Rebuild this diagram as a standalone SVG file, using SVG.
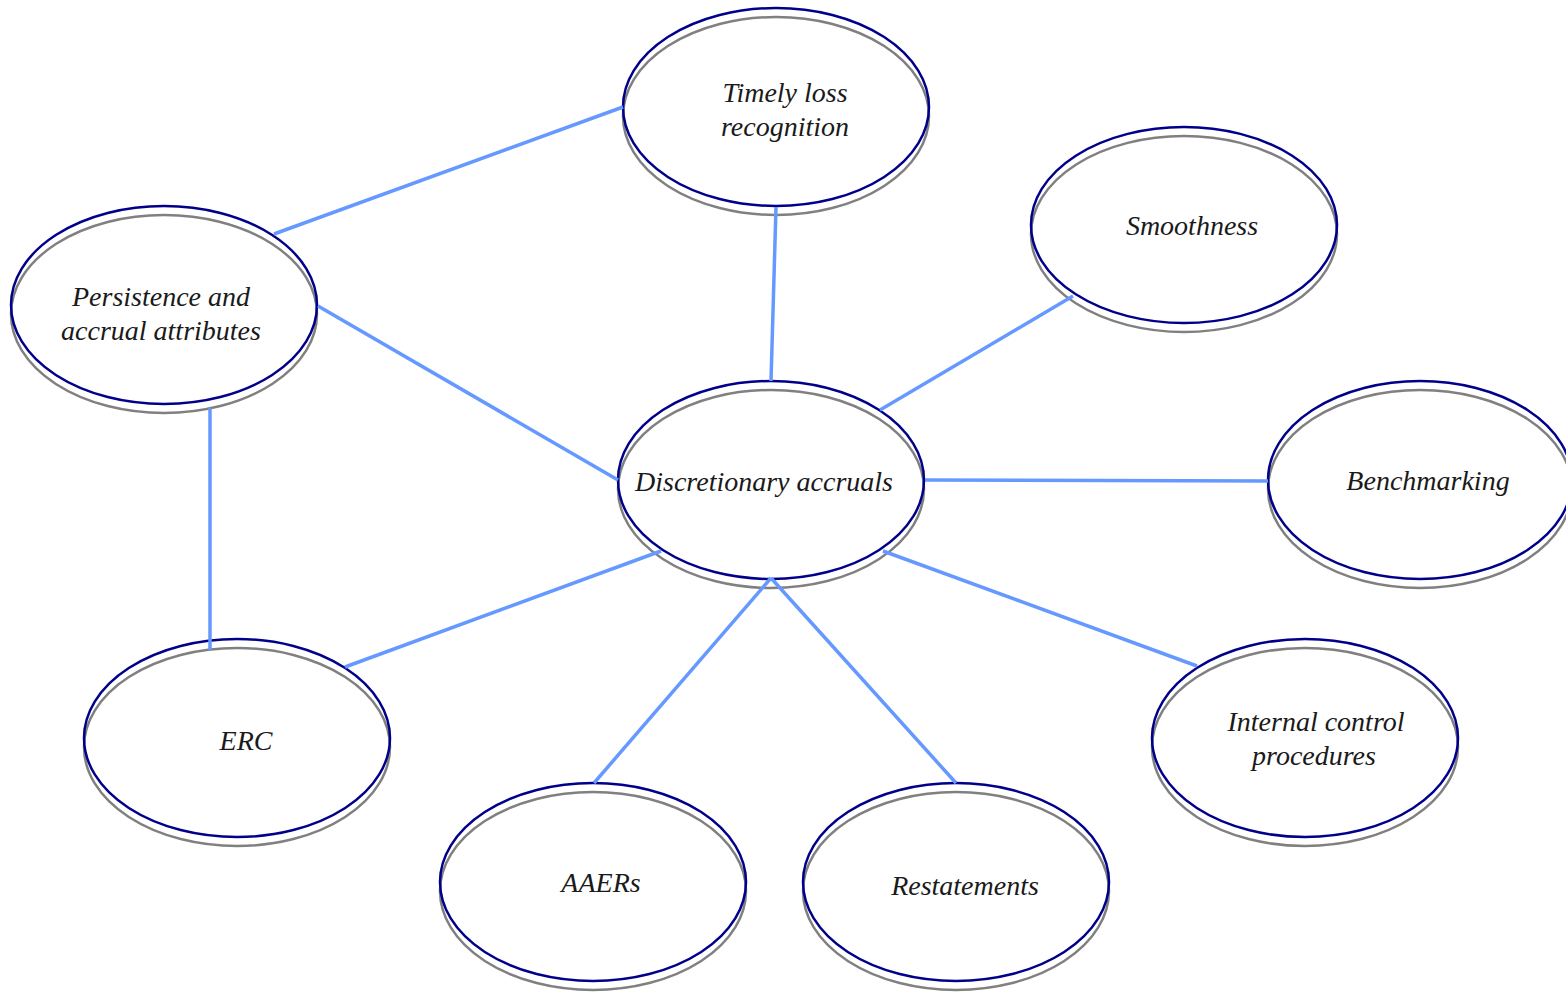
<svg xmlns="http://www.w3.org/2000/svg" width="1566" height="992" viewBox="0 0 1566 992">
<style>
.sh{fill:#fff;stroke:#808080;stroke-width:2.5}
.nv{fill:none;stroke:#00008b;stroke-width:2.5}
.t{font-family:"Liberation Serif",serif;font-style:italic;font-size:28px;fill:#1a1a1a;text-anchor:middle}
.c{stroke:#6699ff;stroke-width:3.5;fill:none}
</style>
<rect width="1566" height="992" fill="#fff"/>
<g id="n-timely"><ellipse class="sh" cx="776" cy="116" rx="153" ry="99"/><ellipse class="nv" cx="776" cy="107" rx="153" ry="99"/><text class="t" x="785" y="102">Timely loss</text><text class="t" x="785" y="136">recognition</text></g>
<g id="n-smooth"><ellipse class="sh" cx="1184" cy="234" rx="153" ry="98"/><ellipse class="nv" cx="1184" cy="225" rx="153" ry="98"/><text class="t" x="1192" y="235">Smoothness</text></g>
<g id="n-persist"><ellipse class="sh" cx="164" cy="314" rx="153" ry="99"/><ellipse class="nv" cx="164" cy="305" rx="153" ry="99"/><text class="t" x="161" y="306">Persistence and</text><text class="t" x="161" y="340">accrual attributes</text></g>
<g id="n-disc"><ellipse class="sh" cx="771" cy="489" rx="153" ry="99"/><ellipse class="nv" cx="771" cy="480" rx="153" ry="99"/><text class="t" x="764" y="491">Discretionary accruals</text></g>
<g id="n-bench"><ellipse class="sh" cx="1420" cy="489" rx="152" ry="99"/><ellipse class="nv" cx="1420" cy="480" rx="152" ry="99"/><text class="t" x="1428" y="490">Benchmarking</text></g>
<g id="n-erc"><ellipse class="sh" cx="237" cy="747" rx="153" ry="99"/><ellipse class="nv" cx="237" cy="738" rx="153" ry="99"/><text class="t" x="246" y="750">ERC</text></g>
<g id="n-aaers"><ellipse class="sh" cx="593" cy="891" rx="153" ry="99"/><ellipse class="nv" cx="593" cy="882" rx="153" ry="99"/><text class="t" x="601" y="892">AAERs</text></g>
<g id="n-restate"><ellipse class="sh" cx="956" cy="891" rx="153" ry="99"/><ellipse class="nv" cx="956" cy="882" rx="153" ry="99"/><text class="t" x="965" y="895">Restatements</text></g>
<g id="n-internal"><ellipse class="sh" cx="1305" cy="747" rx="153" ry="99"/><ellipse class="nv" cx="1305" cy="738" rx="153" ry="99"/><text class="t" x="1316" y="731">Internal control</text><text class="t" x="1314" y="765">procedures</text></g>
<g id="connectors">
<line class="c" x1="274" y1="234" x2="623" y2="107"/>
<line class="c" x1="776" y1="207" x2="771" y2="381"/>
<line class="c" x1="318" y1="306" x2="618" y2="480"/>
<line class="c" x1="210" y1="408" x2="210" y2="650"/>
<line class="c" x1="1073" y1="296" x2="880" y2="410"/>
<line class="c" x1="925" y1="480" x2="1268" y2="481"/>
<line class="c" x1="661" y1="551" x2="345" y2="667"/>
<line class="c" x1="771" y1="578" x2="594" y2="783"/>
<line class="c" x1="771" y1="578" x2="956" y2="783"/>
<line class="c" x1="883" y1="551" x2="1197" y2="666"/>
</g>
</svg>
